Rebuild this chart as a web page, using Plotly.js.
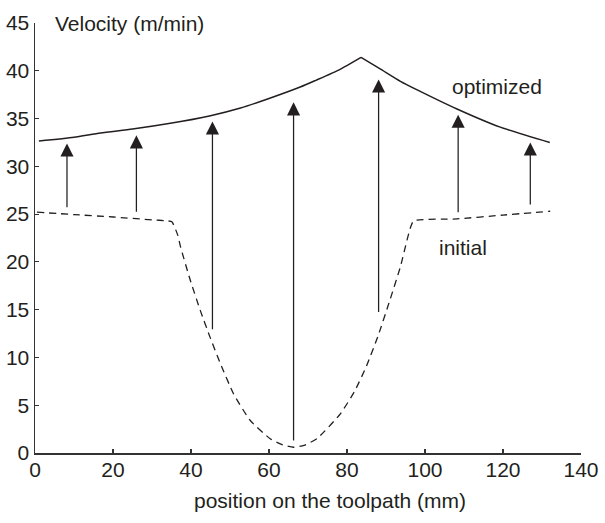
<!DOCTYPE html>
<html>
<head>
<meta charset="utf-8">
<script src="https://cdn.plot.ly/plotly-3.0.1.min.js"></script>
<style>html,body{margin:0;padding:0;background:#fff;}#chart{width:605px;height:523px;}</style>
</head>
<body>
<div id="chart"></div>
<script>
// Optimized velocity profile (solid)
var optX = [1, 10, 16.8, 25, 34.7, 45, 52.7, 60, 68, 72, 78, 83.6, 88.5, 93.7, 98, 108.2, 119.3, 132];
var optY = [32.65, 33.05, 33.5, 33.9, 34.5, 35.3, 36.1, 37.1, 38.3, 39.0, 40.1, 41.4, 40.2, 38.9, 38.0, 36.0, 34.1, 32.5];
// Initial velocity profile (dashed)
var initX = [0.5, 10, 20, 30, 33.8, 35.1, 36.6, 37.3, 39.8, 42.4, 44.9, 47.5, 50.9, 55.2, 60.3, 63.5, 66.3, 69, 72.3, 78.3, 82, 85, 88, 91, 93.7, 95.4, 96.2, 97.1, 108.2, 120, 132.1];
var initY = [25.2, 24.95, 24.7, 24.4, 24.3, 24.2, 22.8, 21.6, 18.1, 14.9, 12.1, 9.4, 6.2, 3.4, 1.5, 0.85, 0.6, 0.8, 1.5, 4.1, 6.5, 9.1, 12.3, 16.0, 19.5, 22.3, 23.5, 24.3, 24.5, 24.9, 25.3];
// Arrows: from initial to optimized
var arrowX = [8.2, 26.0, 45.5, 66.3, 88.1, 108.5, 127.0];
var arrowFrom = [25.55, 25.1, 12.8, 1.15, 14.6, 25.05, 25.85];
var arrowTo = [32.4, 33.25, 34.7, 36.7, 39.1, 35.4, 32.5];
// Labels
var xTitle = 'position on the toolpath (mm)';
var yTitle = 'Velocity (m/min)';
var optLabel = 'optimized';
var initLabel = 'initial';

var ink = '#231f20';
var fontFam = '"Liberation Sans", Arial, Helvetica, sans-serif';

// split the optimized curve at its peak so each branch is smoothed on its own
var peak = optY.indexOf(Math.max.apply(null, optY));
var optLine = {color: ink, width: 1.5, shape: 'spline', smoothing: 0.6};

var traces = [
  {x: optX.slice(0, peak + 1), y: optY.slice(0, peak + 1), mode: 'lines', line: optLine, hoverinfo: 'skip'},
  {x: optX.slice(peak), y: optY.slice(peak), mode: 'lines', line: optLine, hoverinfo: 'skip'},
  {x: initX, y: initY, mode: 'lines', line: {color: ink, width: 1.3, dash: '7px,5px', shape: 'spline', smoothing: 0.5}, hoverinfo: 'skip'}
];

var annotations = [];
for (var i = 0; i < arrowX.length; i++) {
  annotations.push({
    x: arrowX[i], y: arrowTo[i], xref: 'x', yref: 'y',
    ax: arrowX[i], ay: arrowFrom[i], axref: 'x', ayref: 'y',
    showarrow: true, arrowhead: 2, arrowsize: 2.1, arrowwidth: 1.25,
    arrowcolor: ink, standoff: 0, startstandoff: 0, text: ''
  });
}
annotations.push({x: 4.6, y: 45, xref: 'x', yref: 'y', text: yTitle, showarrow: false,
  xanchor: 'left', yanchor: 'middle', font: {family: fontFam, size: 21, color: ink}});
annotations.push({x: 0.54, y: -0.11, xref: 'paper', yref: 'paper', text: xTitle, showarrow: false,
  xanchor: 'center', yanchor: 'middle', font: {family: fontFam, size: 21, color: ink}});
annotations.push({x: 106.5, y: 38.4, xref: 'x', yref: 'y', text: optLabel, showarrow: false,
  xanchor: 'left', yanchor: 'middle', font: {family: fontFam, size: 21, color: ink}});
annotations.push({x: 103.2, y: 21.5, xref: 'x', yref: 'y', text: initLabel, showarrow: false,
  xanchor: 'left', yanchor: 'middle', font: {family: fontFam, size: 21, color: ink}});

var layout = {
  width: 605, height: 523,
  margin: {l: 35, r: 24, t: 23, b: 70, pad: 0},
  paper_bgcolor: '#fff', plot_bgcolor: '#fff',
  showlegend: false,
  font: {family: fontFam, size: 21, color: ink},
  xaxis: {range: [0, 140], dtick: 20, tick0: 0, showgrid: false, zeroline: false,
    showline: true, linecolor: '#333', linewidth: 1.5, ticks: 'inside', ticklen: 4,
    tickwidth: 1.2, tickcolor: '#333', ticklabelstandoff: -3,
    tickfont: {family: fontFam, size: 21, color: ink}},
  yaxis: {range: [0, 45], dtick: 5, tick0: 0, showgrid: false, zeroline: false,
    showline: true, linecolor: '#333', linewidth: 1.5, ticks: 'inside', ticklen: 4,
    tickwidth: 1.2, tickcolor: '#333', tickfont: {family: fontFam, size: 21, color: ink}},
  annotations: annotations
};

Plotly.newPlot('chart', traces, layout, {staticPlot: true, displayModeBar: false});
</script>
</body>
</html>
